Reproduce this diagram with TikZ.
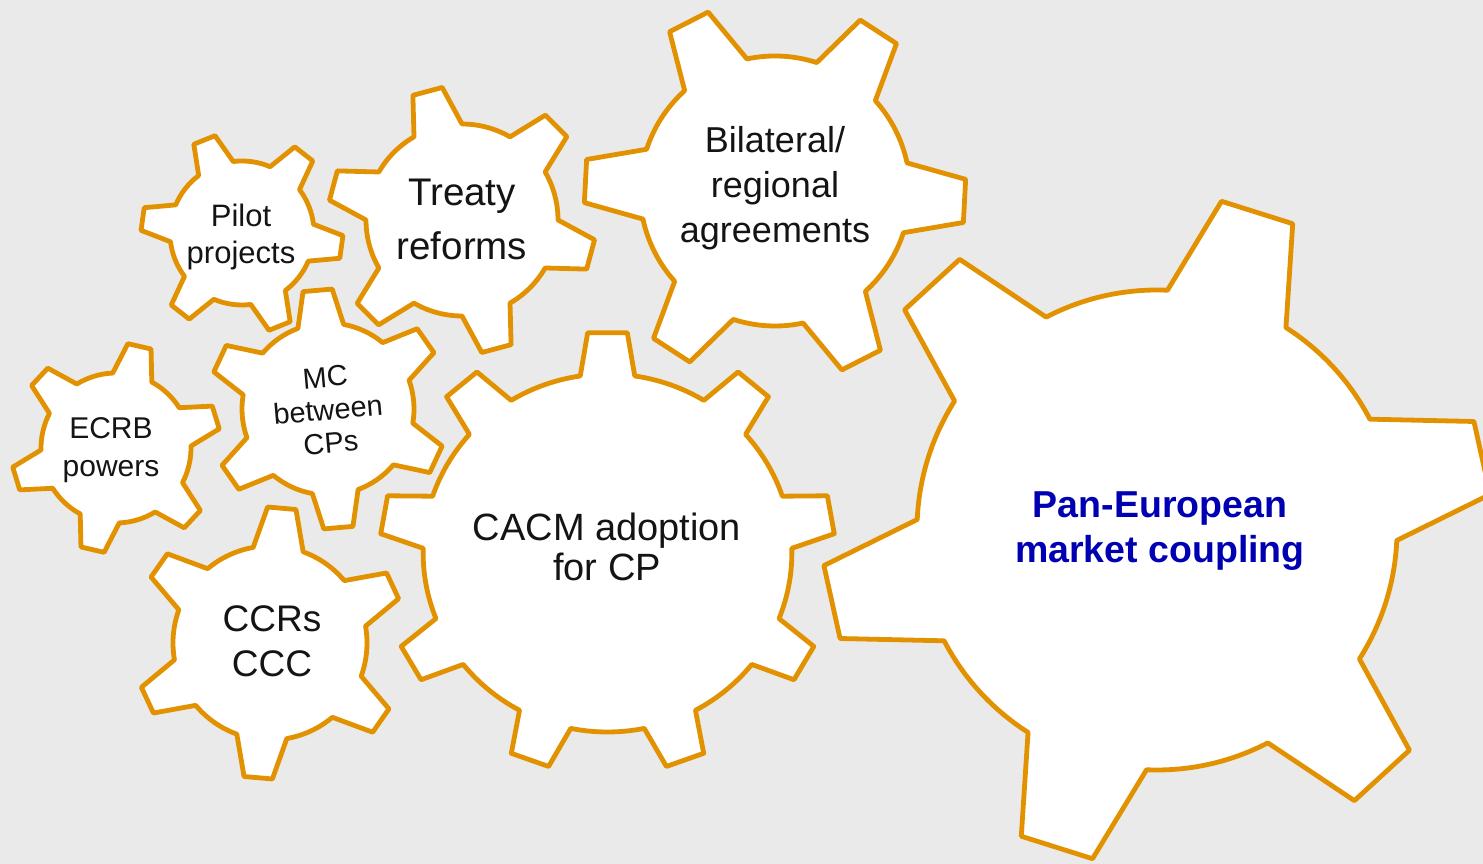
\documentclass[tikz,border=0pt]{standalone}
\usepackage{fontspec}
\setmainfont{Liberation Sans}
\definecolor{gearline}{RGB}{226,146,0}
\definecolor{bggray}{RGB}{234,234,234}
\definecolor{panblue}{RGB}{0,0,178}
\newcommand{\drawgear}[8][]{%
  \pgfmathsetmacro{\gstep}{360/#3}
  \draw[gear, shift={(#2)}, #1] ({#6-#7}:#4) \foreach \i in {1,...,#3}{
      -- ({#6+(\i-1)*\gstep-#8}:#5) -- ({#6+(\i-1)*\gstep+#8}:#5)
      -- ({#6+(\i-1)*\gstep+#7}:#4)
      arc[start angle={#6+(\i-1)*\gstep+#7}, end angle={#6+\i*\gstep-#7}, radius=#4]
    } -- cycle;
}

\begin{document}
\begin{tikzpicture}[x=1pt, y=1pt,
    gear/.style={draw=gearline, line width=4.8pt, line join=round, fill=white},
    gtext/.style={align=center, text=black!92, inner sep=0pt}]
  \clip (0,0) rectangle (1483,864);
  \fill[bggray] (0,0) rectangle (1483,864);

  \coordinate (pilotc) at (242,631);
  \coordinate (treatyc) at (462,644);
  \coordinate (bilatc) at (775,673);
  \coordinate (ecrbc) at (116,416);
  \coordinate (mcc) at (328,455);
  \coordinate (ccrc) at (270,221);
  \coordinate (cacmc) at (607.5,311);
  \coordinate (panc) at (1157,334);

  \drawgear{pilotc}{6}{72pt}{101pt}{-8}{15}{6.5}
  \drawgear{treatyc}{6}{96pt}{134pt}{-15}{15}{6.5}
  \drawgear{bilatc}{6}{135pt}{191pt}{-3}{15}{6.5}
  \drawgear{ecrbc}{6}{75pt}{105pt}{17}{15.5}{6.5}
  \drawgear{mcc}{6}{86pt}{120pt}{35}{15.5}{7}
  \drawgear{ccrc}{6}{97pt}{136pt}{25}{15}{6}
  \drawgear[xscale=1.03]{cacmc}{9}{179pt}{221pt}{90}{8.5}{5}
  \drawgear{panc}{6}{240pt}{335pt}{12.5}{15}{6.4}

  \node[gtext, font=\fontsize{31}{36.6}\selectfont] (pilot) at (241,627) {Pilot\\projects};
  \node[gtext, font=\fontsize{38.5}{54}\selectfont] (treaty) at (462,645) {Treaty\\reforms};
  \node[gtext, font=\fontsize{36}{45}\selectfont] (bilat) at (775,676) {Bilateral/\\regional\\agreements};
  \node[gtext, font=\fontsize{30}{38.3}\selectfont] (ecrb) at (111,414) {ECRB\\powers};
  \node[gtext, font=\fontsize{29}{33}\selectfont, rotate=5] (mc) at (328,454) {MC\\between\\CPs};
  \node[gtext, font=\fontsize{37}{45}\selectfont] (ccr) at (272,223) {CCRs\\CCC};
  \node[gtext, font=\fontsize{38}{40}\selectfont] (cacm) at (607,317) {CACM adoption\\for CP};
  \node[gtext, font=\fontsize{37.5}{45}\selectfont\bfseries, text=panblue] (pan) at (1160,333) {Pan-European\\market coupling};
\end{tikzpicture}
\end{document}
